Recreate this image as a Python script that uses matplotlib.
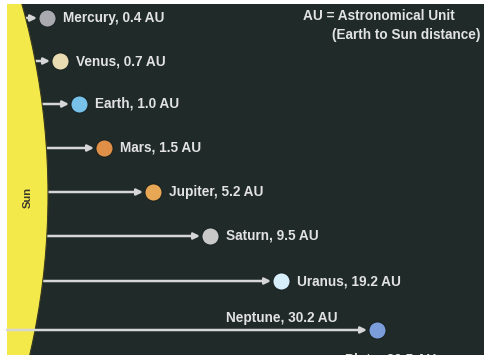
import numpy as np
import matplotlib
matplotlib.use("Agg")
import matplotlib.pyplot as plt
from matplotlib.patches import Circle, Rectangle

# data
planets = ["Mercury", "Venus", "Earth", "Mars", "Jupiter", "Saturn", "Uranus", "Neptune"]
au = [0.4, 0.7, 1.0, 1.5, 5.2, 9.5, 19.2, 30.2]
planet_colors = ["#a9aaaf", "#e9dcb3", "#78c2ea", "#df8f47", "#e7a754",
                 "#c9c9c9", "#d6eefa", "#7b9edb"]
note_lines = ["AU = Astronomical Unit", "(Earth to Sun distance)"]

# schematic layout (pixels, diagram is not to scale)
col_x = [47, 60, 79, 104, 153, 210, 281, 377]
row_y = [18, 61, 104, 148, 192, 236, 281, 330]

W, H = 485, 355
BG = "#1f2a29"
TXT = "#e2e2e2"
FONT = "Liberation Sans"
FS = 9.8

fig = plt.figure(figsize=(W / 100, H / 100), dpi=100, facecolor="white")
ax = fig.add_axes([0, 0, 1, 1])
ax.set_xlim(0, W)
ax.set_ylim(H, 0)
ax.axis("off")

panel = Rectangle((7, 4), W - 7, H - 4, facecolor=BG, edgecolor="none", zorder=0)
ax.add_patch(panel)

# sun as a big circle clipped to the panel
sun_cx, sun_cy, sun_r = 48 - 712, 195, 712
sun = Circle((sun_cx, sun_cy), sun_r, facecolor="#f4e94b", edgecolor="#3a3a20",
             lw=0.8, zorder=3)
ax.add_patch(sun)
sun.set_clip_path(panel)
ax.text(28, 197, "Sun", rotation=90, ha="center", va="center", fontsize=8,
        color="#3b3b2a", family=FONT, fontweight="bold", zorder=4)

for i, name in enumerate(planets):
    x, y = col_x[i], row_y[i]
    last = i == len(planets) - 1
    start = 7 if last else sun_cx + np.sqrt(sun_r ** 2 - (y - sun_cy) ** 2) - 1
    ax.annotate("", xy=(x - 10, y), xytext=(start, y),
                arrowprops=dict(arrowstyle="-|>", color="#d6d6d6", lw=1.8,
                                mutation_scale=9, shrinkA=0, shrinkB=0),
                zorder=5 if last else 2, annotation_clip=False)
    ax.scatter([x], [y], s=150, color=planet_colors[i], edgecolors="#151c1c",
               linewidths=0.6, zorder=6)
    label = f"{name}, {au[i]:.1f} AU"
    if last:
        ax.text(x - 39, y - 12, label, ha="right", va="center", fontsize=FS,
                color=TXT, family=FONT, fontweight="bold", zorder=7)
    else:
        ax.text(x + 16, y, label, ha="left", va="center", fontsize=FS,
                color=TXT, family=FONT, fontweight="bold", zorder=7)

ax.text(303, 16, note_lines[0], ha="left", va="center", fontsize=FS,
        color=TXT, family=FONT, fontweight="bold")
ax.text(332, 35, note_lines[1], ha="left", va="center", fontsize=FS,
        color=TXT, family=FONT, fontweight="bold")
# next planet label, cut off by the bottom edge
ax.text(345, 352, "Pluto, 39.5 AU", ha="left", va="top", fontsize=FS,
        color=TXT, family=FONT, fontweight="bold")

fig.savefig("out.png", dpi=100, facecolor="white")
